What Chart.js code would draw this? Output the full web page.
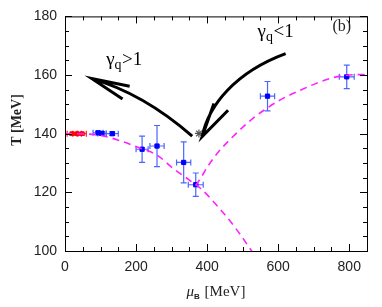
<!DOCTYPE html>
<html>
<head>
<meta charset="utf-8">
<script src="https://cdn.jsdelivr.net/npm/chart.js@4"></script>
<style>
  html, body { margin: 0; padding: 0; background: #fff; }
  #wrap { width: 382px; height: 307px; }
</style>
</head>
<body>
<div id="wrap"><canvas id="chart"></canvas></div>
<script>
// data (mu_B in MeV, T in MeV)
const blueMu = [93, 104, 133, 217, 259, 334, 368, 570, 793];
const blueT = [140.3, 140.1, 140.0, 134.7, 135.8, 130.2, 122.6, 152.8, 159.4];
const blueMuErr = [14, 12, 17, 17, 20, 20, 21, 20, 21];
const blueTErr = [0.6, 0.6, 0.6, 4.5, 7, 7, 4, 5, 4];

const redMu = [20, 34, 48];
const redT = [140, 140, 140];
const redMuErr = [14, 12, 12];
const redTErr = [0.5, 0.5, 0.5];

const lowMu = [0, 60, 100, 150, 200, 259, 306, 350, 381, 430, 480, 530];
const lowT = [140, 139.9, 139.4, 137.8, 135.6, 132.7, 128.0, 124.2, 121.4, 115.2, 107.8, 99.2];

const highMu = [368, 385, 400, 430, 475, 520, 560, 610, 664, 710, 758, 800, 850];
const highT = [122.3, 125.5, 128.5, 133.5, 139.3, 144.3, 148, 151.8, 154.9, 157.3, 159.2, 160, 160.2];

const starMu = [377];
const starT = [140.1];

const xTicks = [0, 200, 400, 600, 800];
const yTicks = [100, 120, 140, 160, 180];

// annotation arrows in data units: start, ctrl1, ctrl2, tip, barb1, barb2
const arrowUp = [[358, 139.2], [268, 148.7], [169.5, 155.5], [75, 158.8], [182, 156.2], [162, 151.8]];
const arrowDown = [[621, 167.3], [480, 161], [404, 149.7], [386, 139], [419, 150.3], [459, 148]];

const pts = (xs, ys) => xs.map((v, i) => ({ x: v, y: ys[i] }));

function errBars(ctx, x, y, mu, t, muErr, tErr, color) {
  ctx.save();
  ctx.strokeStyle = color;
  ctx.lineWidth = 1.2;
  const cap = 3;
  mu.forEach((m, i) => {
    const px = x.getPixelForValue(m), py = y.getPixelForValue(t[i]);
    const x0 = x.getPixelForValue(m - muErr[i]), x1 = x.getPixelForValue(m + muErr[i]);
    const y0 = y.getPixelForValue(t[i] - tErr[i]), y1 = y.getPixelForValue(t[i] + tErr[i]);
    ctx.beginPath();
    ctx.moveTo(x0, py); ctx.lineTo(x1, py);
    ctx.moveTo(x0, py - cap); ctx.lineTo(x0, py + cap);
    ctx.moveTo(x1, py - cap); ctx.lineTo(x1, py + cap);
    ctx.moveTo(px, y0); ctx.lineTo(px, y1);
    ctx.moveTo(px - cap, y0); ctx.lineTo(px + cap, y0);
    ctx.moveTo(px - cap, y1); ctx.lineTo(px + cap, y1);
    ctx.stroke();
  });
  ctx.restore();
}

function arrow(ctx, x, y, a) {
  const p = a.map(([m, t]) => [x.getPixelForValue(m), y.getPixelForValue(t)]);
  ctx.save();
  ctx.strokeStyle = '#000';
  ctx.lineWidth = 3;
  ctx.beginPath();
  ctx.moveTo(p[0][0], p[0][1]);
  ctx.bezierCurveTo(p[1][0], p[1][1], p[2][0], p[2][1], p[3][0], p[3][1]);
  ctx.moveTo(p[4][0], p[4][1]); ctx.lineTo(p[3][0], p[3][1]); ctx.lineTo(p[5][0], p[5][1]);
  ctx.stroke();
  ctx.restore();
}

function gammaLabel(ctx, px, py, rel) {
  ctx.save();
  ctx.fillStyle = '#000';
  ctx.textBaseline = 'alphabetic';
  ctx.font = '19px "Liberation Serif"';
  ctx.fillText('\u03b3', px, py);
  let w = ctx.measureText('\u03b3').width;
  ctx.font = '14px "Liberation Serif"';
  ctx.fillText('q', px + w, py + 4);
  w += ctx.measureText('q').width;
  ctx.font = '19px "Liberation Serif"';
  ctx.fillText(rel + '1', px + w + 0.5, py);
  ctx.restore();
}

const overlay = {
  id: 'overlay',
  beforeDatasetsDraw(chart) {
    const { ctx, scales: { x, y } } = chart;
    errBars(ctx, x, y, blueMu, blueT, blueMuErr, blueTErr, '#4a66ff');
    errBars(ctx, x, y, redMu, redT, redMuErr, redTErr, '#ff2020');
  },
  afterDraw(chart) {
    const { ctx, chartArea: a, scales: { x, y } } = chart;
    ctx.save();
    ctx.strokeStyle = '#000';
    ctx.lineWidth = 1;
    ctx.strokeRect(a.left + 0.5, a.top + 0.5, a.right - a.left, a.bottom - a.top);
    ctx.beginPath();
    for (let v = 0; v <= 850; v += 50) {
      const px = Math.round(x.getPixelForValue(v)) + 0.5;
      const len = v % 200 === 0 ? 7 : 4;
      ctx.moveTo(px, a.bottom); ctx.lineTo(px, a.bottom - len);
      ctx.moveTo(px, a.top); ctx.lineTo(px, a.top + len);
    }
    for (let v = 100; v <= 180; v += 5) {
      const py = Math.round(y.getPixelForValue(v)) + 0.5;
      const len = v % 20 === 0 ? 7 : 4;
      ctx.moveTo(a.left, py); ctx.lineTo(a.left + len, py);
      ctx.moveTo(a.right, py); ctx.lineTo(a.right - len, py);
    }
    ctx.stroke();
    ctx.restore();

    arrow(ctx, x, y, arrowUp);
    arrow(ctx, x, y, arrowDown);

    gammaLabel(ctx, x.getPixelForValue(116), y.getPixelForValue(163.3), '>');
    gammaLabel(ctx, x.getPixelForValue(542), y.getPixelForValue(172.9), '<');

    ctx.save();
    ctx.fillStyle = '#222';
    ctx.font = '16px "Liberation Serif"';
    ctx.fillText('(b)', x.getPixelForValue(753), y.getPixelForValue(174.9));

    // y axis title
    ctx.translate(17, 120);
    ctx.rotate(-Math.PI / 2);
    ctx.font = 'bold 14px "Liberation Serif"';
    ctx.textAlign = 'center';
    ctx.textBaseline = 'middle';
    ctx.fillText('T [MeV]', 0, 0);
    ctx.restore();

    // x axis title
    ctx.save();
    ctx.fillStyle = '#222';
    const cx = (a.left + a.right) / 2, base = 296;
    ctx.font = 'italic 15px "Liberation Serif"';
    const wMu = ctx.measureText('\u03bc').width;
    ctx.font = 'bold 8px "Liberation Sans"';
    const wB = ctx.measureText('B').width;
    ctx.font = '15px "Liberation Serif"';
    const wR = ctx.measureText(' [MeV]').width;
    let sx = cx - (wMu + wB + 1 + wR) / 2;
    ctx.font = 'italic 15px "Liberation Serif"';
    ctx.fillText('\u03bc', sx, base);
    ctx.font = 'bold 8px "Liberation Sans"';
    ctx.fillText('B', sx + wMu, base + 3);
    ctx.font = '15px "Liberation Serif"';
    ctx.fillText(' [MeV]', sx + wMu + wB + 1, base);
    ctx.restore();
  }
};

new Chart(document.getElementById('chart'), {
  type: 'scatter',
  data: {
    datasets: [
      {
        type: 'line', data: pts(lowMu, lowT), borderColor: '#ff22ff', borderWidth: 1.6,
        borderDash: [7, 5], pointRadius: 0, cubicInterpolationMode: 'monotone', fill: false
      },
      {
        type: 'line', data: pts(highMu, highT), borderColor: '#ff22ff', borderWidth: 1.6,
        borderDash: [7, 5], pointRadius: 0, cubicInterpolationMode: 'monotone', fill: false
      },
      {
        data: pts(redMu, redT), pointStyle: 'rect', pointRadius: 2.6,
        backgroundColor: '#ff0000', borderColor: '#ff0000', borderWidth: 1
      },
      {
        data: pts(blueMu, blueT), pointStyle: 'rect', pointRadius: 3,
        backgroundColor: '#0000ff', borderColor: '#0000ff', borderWidth: 1
      },
      {
        data: pts(starMu, starT), pointStyle: 'star', pointRadius: 4,
        backgroundColor: '#555', borderColor: '#555', borderWidth: 1.2
      }
    ]
  },
  options: {
    responsive: true,
    maintainAspectRatio: false,
    animation: false,
    layout: { padding: { top: 16, right: 15, left: 0, bottom: 0 } },
    plugins: { legend: { display: false }, tooltip: { enabled: false } },
    scales: {
      x: {
        type: 'linear', min: 0, max: 850,
        grid: { display: false, drawTicks: false },
        border: { display: false },
        afterBuildTicks: s => { s.ticks = xTicks.map(v => ({ value: v })); },
        afterFit: s => { s.height = 56; },
        ticks: { padding: 8, color: '#222', font: { family: 'Liberation Sans', size: 14 }, maxRotation: 0 }
      },
      y: {
        type: 'linear', min: 100, max: 180,
        grid: { display: false, drawTicks: false },
        border: { display: false },
        afterBuildTicks: s => { s.ticks = yTicks.map(v => ({ value: v })); },
        afterFit: s => { s.width = 65; },
        ticks: { padding: 8, color: '#222', font: { family: 'Liberation Sans', size: 14 } }
      }
    }
  },
  plugins: [overlay]
});
</script>
</body>
</html>
